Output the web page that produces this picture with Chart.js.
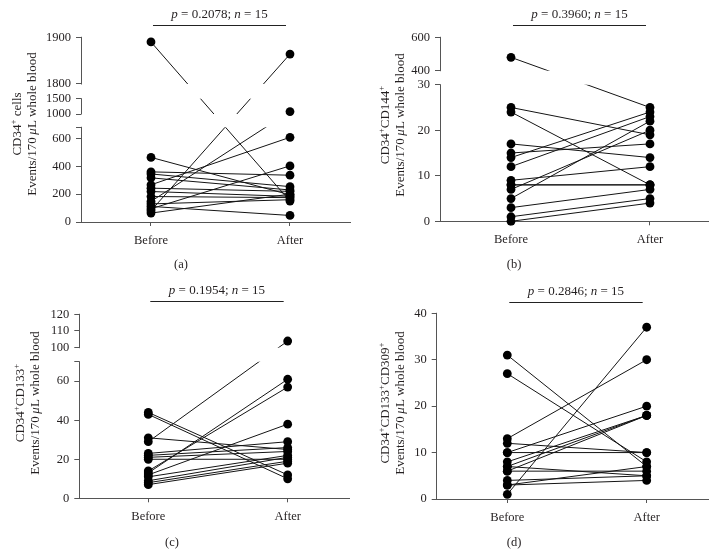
<!DOCTYPE html>
<html><head><meta charset="utf-8">
<script src="https://cdn.jsdelivr.net/npm/chart.js@4.4.1/dist/chart.umd.min.js"></script>
<style>
html,body{margin:0;padding:0;background:#fff;}
#wrap{position:relative;width:727px;height:556px;overflow:hidden;background:#fff;}
canvas{position:absolute;}
</style></head><body>
<div id="wrap">
<canvas id="ca" width="363" height="278" style="left:0;top:0"></canvas>
<canvas id="cb" width="364" height="278" style="left:363px;top:0"></canvas>
<canvas id="cc" width="363" height="278" style="left:0;top:278px"></canvas>
<canvas id="cd" width="364" height="278" style="left:363px;top:278px"></canvas>
</div>
<script>
// ---------------- data ----------------
const categories = ['Before', 'After'];

const beforeA = [1890, 81, 148, 267, 95, 464, 360, 345, 317, 243, 219, 183, 130, 112, 64];
const afterA  = [150, 1864, 1080, 608, 403, 195, 336, 254, 230, 220, 184, 175, 160, 47, 200];

const beforeB = [480, 25, 24, 17, 15, 14, 12, 9, 8, 8, 7, 5, 3, 1, 0];
const afterB  = [25, 19, 8, 14, 17, 24, 23, 12, 8, 8, 20, 22, 7, 5, 4];

const beforeC = [29, 44, 43, 31, 13, 14, 12, 23, 22, 21, 20, 11, 9, 8, 7];
const afterC  = [104, 12, 10, 25, 61, 57, 38, 29, 26, 24, 20, 22, 21, 19, 18];

const beforeD = [31, 27, 13, 12, 10, 10, 8, 7, 7, 6, 6, 4, 3, 3, 1];
const afterD  = [7, 8, 30, 10, 20, 10, 18, 18, 5, 18, 6, 5, 7, 4, 37];

const ticksA = [0, 200, 400, 600, 680, 1000, 1500, 1800, 1900];
const tickLabelsA = ['0', '200', '400', '600', '', '1000', '1500', '1800', '1900'];
const ticksB = [0, 10, 20, 30, 400, 600];
const tickLabelsB = ['0', '10', '20', '30', '400', '600'];
const ticksC = [0, 20, 40, 60, 70, 100, 110, 120];
const tickLabelsC = ['0', '20', '40', '60', '', '100', '110', '120'];
const ticksD = [0, 10, 20, 30, 40];
const tickLabelsD = ['0', '10', '20', '30', '40'];

const pValues = ['0.2078', '0.3960', '0.1954', '0.2846'];
const nValues = [15, 15, 15, 15];
const markers = [['CD34', '+', ' cells'], ['CD34', '+', 'CD144', '+'], ['CD34', '+', 'CD133', '+'], ['CD34', '+', 'CD133', '+', 'CD309', '+']];
const captions = ['(a)', '(b)', '(c)', '(d)'];

// ---------------- axis breaks (value range -> fraction of axis height) ----------------
const SEGS = {
  a: [{min: 0, max: 680, from: 0, to: 0.5127}, {min: 1000, max: 1500, from: 0.5847, to: 0.6676}, {min: 1800, max: 1900, from: 0.7472, to: 1}],
  b: [{min: 0, max: 30, from: 0, to: 0.7424}, {min: 400, max: 600, from: 0.8185, to: 1}],
  c: [{min: 0, max: 70, from: 0, to: 0.7424}, {min: 100, max: 120, from: 0.8185, to: 1}],
  d: [{min: 0, max: 40, from: 0, to: 1}]
};
const TICKS = {a: [ticksA, tickLabelsA], b: [ticksB, tickLabelsB], c: [ticksC, tickLabelsC], d: [ticksD, tickLabelsD]};

const SERIF = '"Liberation Serif", "Times New Roman", "DejaVu Serif", serif';
const TEXT = '#231f20';
const AXIS = '#555';

class BrokenScale extends Chart.LinearScale {
  key() { return this.chart.canvas.id.slice(1); }
  segs() { return SEGS[this.key()]; }
  determineDataLimits() {
    const s = this.segs();
    this.min = s[0].min; this.max = s[s.length - 1].max;
  }
  buildTicks() { return TICKS[this.key()][0].map(v => ({value: v})); }
  generateTickLabels(ticks) {
    const labs = TICKS[this.key()][1];
    ticks.forEach((t, i) => { t.label = labs[i]; });
  }
  getPixelForValue(v) {
    if (v === null || v === undefined || isNaN(v)) return NaN;
    const s = this.segs();
    let d = 0;
    for (let i = 0; i < s.length; i++) {
      const g = s[i];
      if (v <= g.max || i === s.length - 1) {
        if (v >= g.min || i === 0) d = g.from + (v - g.min) / (g.max - g.min) * (g.to - g.from);
        else { const p = s[i - 1]; d = p.to + (v - p.max) / (g.min - p.max) * (g.from - p.to); }
        break;
      }
    }
    return this.getPixelForDecimal(d);
  }
  getValueForPixel(px) {
    const d = this.getDecimalForPixel(px);
    const s = this.segs();
    for (let i = 0; i < s.length; i++) {
      const g = s[i];
      if (d <= g.to || i === s.length - 1) {
        if (d >= g.from || i === 0) return g.min + (d - g.from) / (g.to - g.from) * (g.max - g.min);
        const p = s[i - 1];
        return p.max + (d - p.to) / (g.from - p.to) * (g.min - p.max);
      }
    }
    return 0;
  }
  drawBorder() {
    const ctx = this.ctx;
    const x = (this._borderValue !== undefined) ? this._borderValue : Math.round(this.right) + 0.5;
    ctx.save();
    ctx.lineWidth = 1; ctx.strokeStyle = AXIS;
    ctx.beginPath();
    for (const g of this.segs()) {
      ctx.moveTo(x, this.getPixelForValue(g.min) + 0.5);
      ctx.lineTo(x, this.getPixelForValue(g.max) - 0.5);
    }
    ctx.stroke();
    ctx.restore();
  }
}
BrokenScale.id = 'broken';
BrokenScale.defaults = {};
Chart.register(BrokenScale);

// white bands over lines crossing the axis breaks (drawn before the dots)
const breakMask = {
  id: 'breakMask',
  beforeDatasetsDraw(chart) { chart.$masked = false; },
  beforeDatasetDraw(chart, args) {
    const ds = chart.data.datasets[args.index];
    if (!ds.isDots || chart.$masked) return;
    chart.$masked = true;
    const y = chart.scales.y, s = y.segs(), ca = chart.chartArea, ctx = chart.ctx;
    ctx.save(); ctx.fillStyle = '#fff';
    for (let i = 0; i < s.length - 1; i++) {
      const y1 = y.getPixelForValue(s[i].max), y2 = y.getPixelForValue(s[i + 1].min);
      ctx.fillRect(ca.left + 1, y2, ca.right - ca.left + 5, y1 - y2);
    }
    ctx.restore();
  }
};

function drawRich(ctx, runs, x, y, size, align) {
  let w = 0;
  const parts = runs.map(r => {
    const fs = r.sup ? size * 0.68 : size;
    const font = (r.it ? 'italic ' : '') + fs + 'px ' + SERIF;
    ctx.font = font;
    const mw = ctx.measureText(r.t).width;
    w += mw;
    return {t: r.t, font, mw, dy: r.sup ? -size * 0.38 : 0};
  });
  let cx = align === 'center' ? x - w / 2 : x;
  ctx.textAlign = 'left'; ctx.textBaseline = 'alphabetic';
  for (const p of parts) { ctx.font = p.font; ctx.fillText(p.t, cx, y + p.dy); cx += p.mw; }
}

const deco = {
  id: 'deco',
  afterDraw(chart, args, o) {
    const ctx = chart.ctx, xs = chart.scales.x;
    const i = o.idx;
    ctx.save();
    ctx.fillStyle = TEXT;
    // significance bar and text
    const x0 = xs.getPixelForValue(0) + 2, x1 = xs.getPixelForValue(1) - 4;
    ctx.strokeStyle = '#222'; ctx.lineWidth = 1;
    ctx.beginPath(); ctx.moveTo(x0, o.barY + 0.5); ctx.lineTo(x1, o.barY + 0.5); ctx.stroke();
    drawRich(ctx, [{t: 'p', it: true}, {t: ' = ' + pValues[i] + '; '}, {t: 'n', it: true}, {t: ' = ' + nValues[i]}],
      (x0 + x1) / 2, o.barY - 7, 13, 'center');
    // caption
    ctx.font = '12.5px ' + SERIF; ctx.textAlign = 'center'; ctx.textBaseline = 'middle';
    ctx.fillText(captions[i], o.capX, o.capY);
    // y title (two lines, rotated)
    const m = markers[i];
    const line1 = m.map(t => ({t, sup: t === '+'}));
    const line2 = [{t: 'Events/170\u2009'}, {t: '\u03bc', it: true}, {t: 'L whole blood'}];
    [line1, line2].forEach((ln, k) => {
      ctx.save();
      ctx.translate(o.ytX[k] + 4.3, o.ytY);
      ctx.rotate(-Math.PI / 2);
      drawRich(ctx, ln, 0, 0, 13, 'center');
      ctx.restore();
    });
    ctx.restore();
  }
};

function makePanel(key, idx, before, after, L) {
  const datasets = [];
  for (let i = 0; i < before.length; i++) {
    datasets.push({data: [{x: 0, y: before[i]}, {x: 1, y: after[i]}], showLine: true,
      borderColor: '#141414', borderWidth: 1, pointRadius: 0, pointHoverRadius: 0, order: 1});
  }
  [before, after].forEach((arr, j) => {
    datasets.push({data: arr.map(v => ({x: j, y: v})), showLine: false, isDots: true,
      pointRadius: 4.4, pointBackgroundColor: '#000', pointBorderWidth: 0, pointHoverRadius: 4.4, order: 0});
  });
  const W = L.w, H = 278, XH = 40;
  new Chart(document.getElementById('c' + key), {
    type: 'scatter',
    data: {datasets},
    plugins: [breakMask, deco],
    options: {
      responsive: false, animation: false, events: [],
      layout: {padding: {left: 0, top: L.top, right: W - L.right, bottom: H - L.bottom - XH}},
      plugins: {legend: {display: false}, tooltip: {enabled: false},
        deco: {idx, barY: L.barY, capX: L.capX, capY: L.capY, ytX: L.ytX, ytY: L.ytY}},
      scales: {
        x: {type: 'linear', position: 'bottom', bounds: 'data', min: L.xmin, max: L.xmax,
          afterFit: s => { s.height = XH; },
          afterBuildTicks: s => { s.ticks = categories.map((c, k) => ({value: k})); },
          grid: {drawOnChartArea: false, drawTicks: true, tickLength: 4, color: AXIS, lineWidth: 1},
          border: {display: true, color: AXIS, width: 1},
          ticks: {autoSkip: false, maxRotation: 0, padding: 7, color: TEXT,
            font: {family: SERIF, size: 12.5},
            callback: v => categories[Math.round(v)] || ''}},
        y: {type: 'broken', position: 'left',
          afterFit: s => { s.width = L.left; },
          grid: {drawOnChartArea: false, drawTicks: true, tickLength: 5, color: AXIS, lineWidth: 1},
          border: {display: true, color: AXIS, width: 1},
          ticks: {autoSkip: false, padding: 5, color: TEXT, font: {family: SERIF, size: 12.5}}}
      }
    }
  });
}

makePanel('a', 0, beforeA, afterA, {w: 363, left: 81, right: 350, top: 37.3, bottom: 222,
  xmin: -0.5036, xmax: 1.4317, barY: 25, capX: 181, capY: 265, ytX: [17, 32], ytY: 124});
makePanel('b', 1, beforeB, afterB, {w: 364, left: 77, right: 345, top: 37.3, bottom: 221.3,
  xmin: -0.5108, xmax: 1.4173, barY: 25, capX: 151, capY: 265, ytX: [22, 37], ytY: 125});
makePanel('c', 2, beforeC, afterC, {w: 363, left: 79.3, right: 349, top: 36.3, bottom: 220.3,
  xmin: -0.495, xmax: 1.44, barY: 23, capX: 172, capY: 265, ytX: [20, 35], ytY: 125});
makePanel('d', 3, beforeD, afterD, {w: 364, left: 73.7, right: 345, top: 35.3, bottom: 221,
  xmin: -0.5065, xmax: 1.44, barY: 24, capX: 151, capY: 265, ytX: [22, 37], ytY: 125});
</script>
</body></html>
